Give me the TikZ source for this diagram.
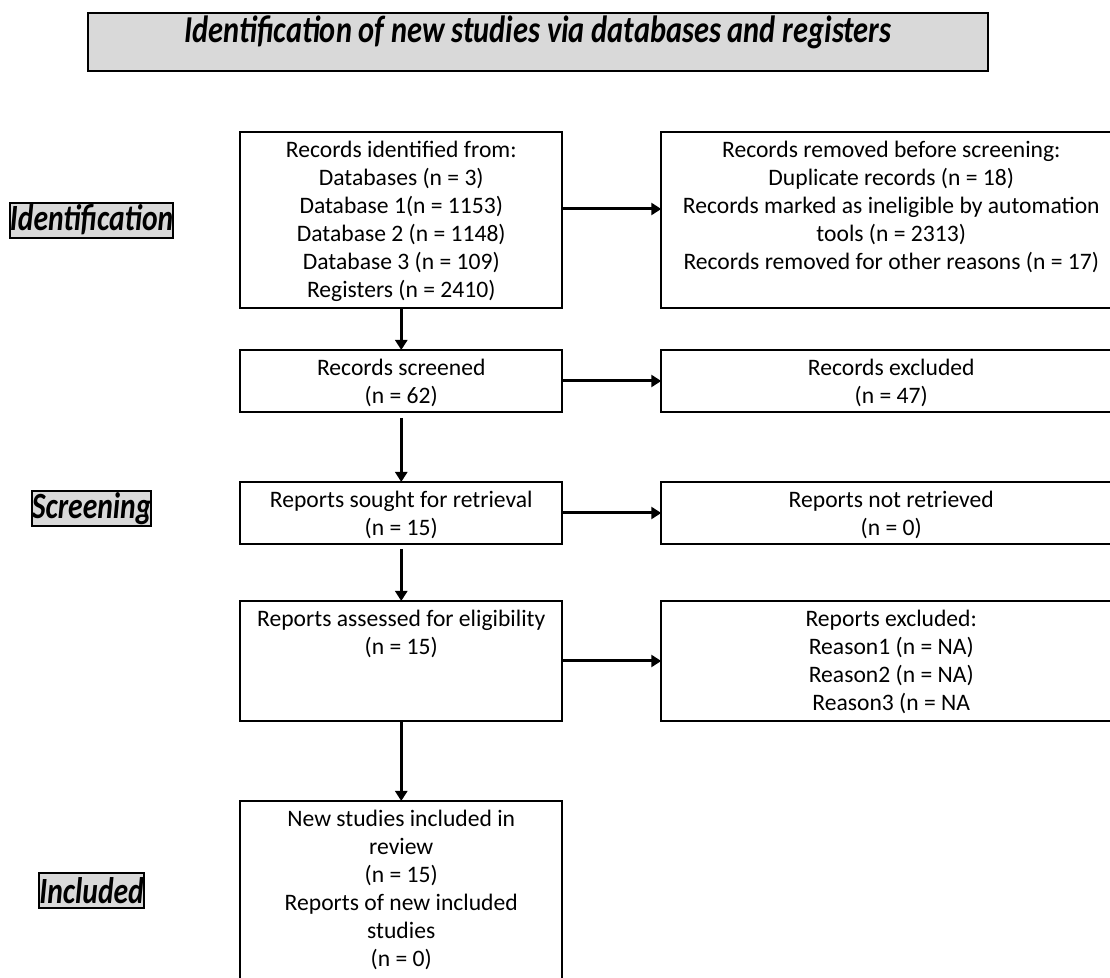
\documentclass[tikz,border=0pt]{standalone}
\usepackage{fontspec}
\setmainfont{Carlito}
\newfontfamily\headfont[FakeStretch=0.8]{Carlito}
\usepackage{tikz}
\usetikzlibrary{arrows.meta}
\usetikzlibrary{positioning}
\usetikzlibrary{chains}
\definecolor{headgray}{HTML}{D9D9D9}
\newcommand{\snode}[4]{\node(#1)[item]{\parbox[c][#3][t]{#2}{\centering\vspace*{3pt}\strut #4}}}
\newcommand{\hnode}[3]{\node(#1)[head, #2]{#3}}

\begin{document}
\begin{tikzpicture}[
        x=0.5pt, y=-0.5pt,
        start chain,
        every node/.style={font=\fontsize{11.8}{14}\selectfont},
        item/.style={rectangle, draw=black, line width=1pt, inner sep=0pt, outer sep=0pt},
        head/.style={rectangle, draw=black, line width=1pt, fill=headgray, inner sep=0pt,
                     minimum height=17.5pt, font=\headfont\bfseries\itshape\fontsize{18.5}{20}\selectfont},
        arr/.style={-{Triangle[length=5pt,width=6pt]}, line width=1.5pt}
      ]
      \useasboundingbox (0,0) rectangle (1110,978);
      \clip (0,0) rectangle (1110,978);

      \node (title) [head, minimum width=450pt, text height=15pt, text depth=14pt,
                     font=\headfont\bfseries\itshape\fontsize{19}{22}\selectfont,
                     anchor=north] at (538,12) {Identification of new studies via databases and registers};

      \matrix[anchor=north west, nodes={anchor=center}, inner sep=0pt, outer sep=0pt, column sep=0pt] at (9,131) {
        \hnode{lid}{minimum width=80pt}{Identification}; &[32.5pt]
        \snode{b1}{161pt}{88pt}{Records identified from:\\Databases (n = 3)\\Database 1(n = 1153)\\Database 2 (n = 1148)\\Database 3 (n = 109)\\Registers (n = 2410)}; &[48.5pt]
        \snode{r1}{230pt}{88pt}{Records removed before screening:\\Duplicate records (n = 18)\\Records marked as ineligible by automation\\tools (n = 2313)\\Records removed for other reasons (n = 17)}; \\[20pt]
        & \snode{b2}{161pt}{31pt}{Records screened\\(n = 62)};
        & \snode{r2}{230pt}{31pt}{Records excluded\\(n = 47)}; \\[34pt]
        \hnode{lsc}{minimum width=59pt, yshift=2.25pt}{Screening};
        & \snode{b3}{161pt}{31pt}{Reports sought for retrieval\\(n = 15)};
        & \snode{r3}{230pt}{31pt}{Reports not retrieved\\(n = 0)}; \\[27.5pt]
        & \snode{b4}{161pt}{60pt}{Reports assessed for eligibility\\(n = 15)};
        & \snode{r4}{230pt}{60pt}{Reports excluded:\\Reason1 (n = NA)\\Reason2 (n = NA)\\Reason3 (n = NA}; \\[39pt]
        \hnode{lin}{minimum width=52pt}{Included};
        & \snode{b5}{161pt}{90pt}{New studies included in\\review\\(n = 15)\\Reports of new included\\studies\\(n = 0)};
        & \\
      };

      % flow down the left column
      \chainin(b1); \chainin(b2) [join=by {arr}]; \chainin(b3) [join=by {arr, shorten <=3pt}];
      \chainin(b4) [join=by {arr, shorten <=2.5pt}]; \chainin(b5) [join=by {arr}];

      % exclusions to the right
      \path
        ([yshift=5.5pt]b1.east) edge[arr] ([yshift=5.5pt]r1.west)
        (b2) edge[arr] (r2)
        (b3) edge[arr] (r3)
        (b4) edge[arr] (r4);
    \end{tikzpicture}
\end{document}
